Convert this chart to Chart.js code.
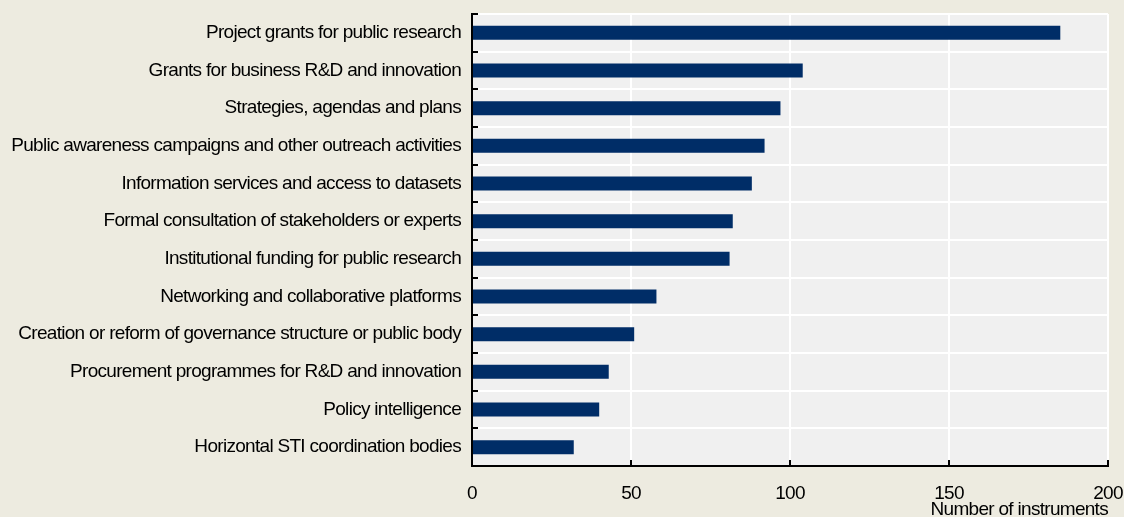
<!DOCTYPE html>
<html>
<head>
<meta charset="utf-8">
<script src="https://cdn.jsdelivr.net/npm/chart.js@4/dist/chart.umd.min.js"></script>
<style>
  html, body { margin: 0; padding: 0; background: #EDEBE0; }
  #wrap { width: 1124px; height: 517px; }
</style>
</head>
<body>
<div id="wrap"><canvas id="barChart" width="1124" height="517"></canvas></div>
<script>
// Données du graphique
const categories = [
    'Project grants for public research',
    'Grants for business R&D and innovation',
    'Strategies, agendas and plans',
    'Public awareness campaigns and other outreach activities',
    'Information services and access to datasets',
    'Formal consultation of stakeholders or experts',
    'Institutional funding for public research',
    'Networking and collaborative platforms',
    'Creation or reform of governance structure or public body',
    'Procurement programmes for R&D and innovation',
    'Policy intelligence',
    'Horizontal STI coordination bodies'
];
const instruments = [185, 104, 97, 92, 88, 82, 81, 58, 51, 43, 40, 32];
const xTicks = [0, 50, 100, 150, 200];
const xTitle = 'Number of instruments';

const FONT = "'Liberation Sans', Arial, sans-serif";

// police un peu resserrée + fond gris de la zone de tracé
const plotBackground = {
    id: 'plotBackground',
    beforeDraw(chart) {
        const {ctx, chartArea: a} = chart;
        ctx.letterSpacing = '-0.7px';
        ctx.save();
        ctx.fillStyle = '#F0F0F0';
        ctx.fillRect(a.left, a.top, a.right - a.left, a.bottom - a.top);
        ctx.restore();
    }
};

// petites graduations noires tournées vers l'intérieur
const innerTicks = {
    id: 'innerTicks',
    afterDraw(chart) {
        const {ctx, chartArea: a, scales} = chart;
        ctx.save();
        ctx.strokeStyle = '#000';
        ctx.lineWidth = 2;
        const n = categories.length;
        const step = (a.bottom - a.top) / n;
        ctx.beginPath();
        for (let i = 0; i <= n; i++) {
            const y = Math.round(a.top + i * step);
            ctx.moveTo(a.left, y);
            ctx.lineTo(a.left + 6, y);
        }
        xTicks.forEach(v => {
            const x = Math.round(scales.x.getPixelForValue(v));
            ctx.moveTo(x, a.bottom);
            ctx.lineTo(x, a.bottom - 6);
        });
        ctx.stroke();
        ctx.restore();
    }
};

const ctx = document.getElementById('barChart').getContext('2d');
const barChart = new Chart(ctx, {
    type: 'bar',
    data: {
        labels: categories,
        datasets: [{
            label: xTitle,
            data: instruments,
            backgroundColor: '#002D67',
            barPercentage: 0.37,
            categoryPercentage: 1
        }]
    },
    options: {
        indexAxis: 'y',
        responsive: false,
        animation: false,
        devicePixelRatio: 1,
        layout: {
            padding: { top: 14, right: 16, left: 0, bottom: 0 }
        },
        scales: {
            x: {
                min: 0,
                max: 200,
                afterBuildTicks(scale) {
                    scale.ticks = xTicks.map(v => ({ value: v }));
                },
                afterFit(scale) {
                    scale.height = 51;
                    scale.paddingLeft = 0;
                    scale.paddingRight = 0;
                },
                ticks: {
                    color: '#000',
                    padding: 16,
                    font: { family: FONT, size: 19 }
                },
                grid: {
                    color: '#FFFFFF',
                    lineWidth: 2,
                    drawTicks: false
                },
                border: { color: '#000', width: 2 },
                title: {
                    display: true,
                    text: xTitle,
                    align: 'end',
                    color: '#000',
                    padding: { top: 0, bottom: -4 },
                    font: { family: FONT, size: 19 }
                }
            },
            y: {
                afterFit(scale) {
                    scale.width = 472;
                    scale.paddingTop = 0;
                    scale.paddingBottom = 0;
                },
                ticks: {
                    color: '#000',
                    padding: 11,
                    autoSkip: false,
                    font: { family: FONT, size: 19 }
                },
                grid: {
                    color: '#FFFFFF',
                    lineWidth: 2,
                    drawTicks: false
                },
                border: { color: '#000', width: 2 }
            }
        },
        plugins: {
            legend: { display: false },
            tooltip: { enabled: false }
        }
    },
    plugins: [plotBackground, innerTicks]
});
</script>
</body>
</html>
